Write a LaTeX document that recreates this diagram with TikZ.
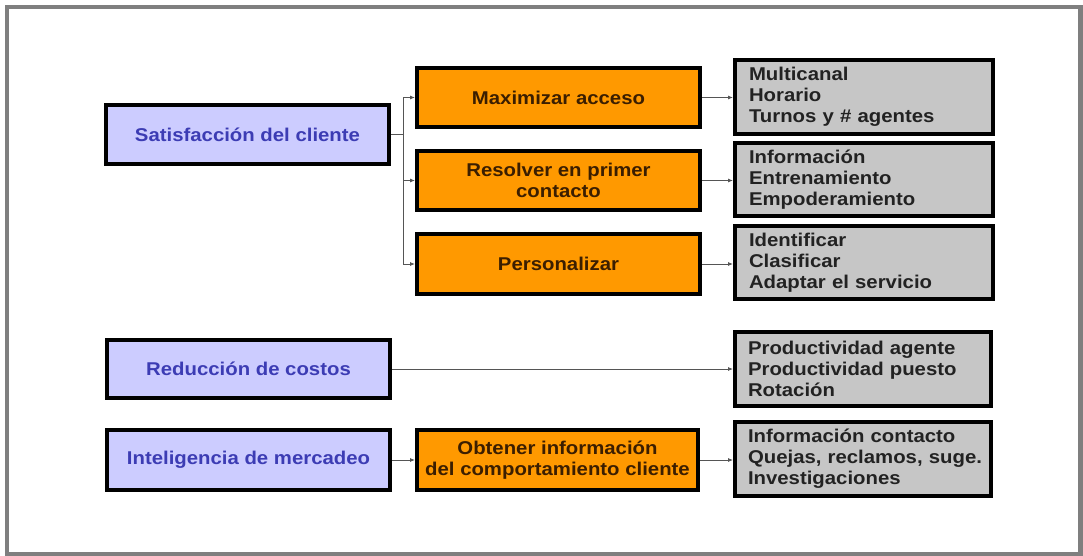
\documentclass[tikz,border=0pt]{standalone}
\usepackage{fontspec}
\setmainfont[FakeStretch=1.1,BoldFont={Liberation Sans Bold}]{Liberation Sans}
\usetikzlibrary{arrows.meta}
\definecolor{lav}{HTML}{CCCCFF}
\definecolor{bluetxt}{HTML}{3C3CB4}
\definecolor{orng}{HTML}{FF9900}
\definecolor{orngtxt}{HTML}{3B1E00}
\definecolor{grayfill}{HTML}{C6C6C6}
\definecolor{graytxt}{HTML}{222222}
\definecolor{frame}{HTML}{7F7F7F}
\definecolor{wire}{HTML}{555555}
\begin{document}
\begin{tikzpicture}[x=1pt,y=-1pt,
  box/.style={draw=black,line width=4pt,inner sep=0pt,
    font=\fontsize{18.5}{21}\selectfont\bfseries},
  goalbox/.style={box,fill=lav,text=bluetxt,minimum width=283,minimum height=59},
  actbox/.style={box,fill=orng,text=orngtxt,align=center,minimum width=283,minimum height=59},
  itembox/.style={box,fill=grayfill,text=graytxt,align=left,text width=230,
    minimum width=258,minimum height=74},
  wireline/.style={draw=wire,line width=0.8pt},
  arr/.style={wireline,-{Latex[length=5pt,width=4pt]}}]
\useasboundingbox (0,0) rectangle (1083,556);
\draw[frame,line width=4.5pt] (7,7) rectangle (1080.5,554);

% goals
\node[goalbox] (sat) at (247.5,134.5) {Satisfacción del cliente};
\node[goalbox,minimum width=283,minimum height=58] (red) at (248.5,369) {Reducción de costos};
\node[goalbox,minimum width=283,minimum height=60] (int) at (248.5,460) {Inteligencia de mercadeo};

% actions
\node[actbox] (max) at (558.5,97.5) {Maximizar acceso};
\node[actbox] (res) at (558.5,180.5) {Resolver en primer\\contacto};
\node[actbox,minimum height=60] (per) at (558.5,264) {Personalizar};
\node[actbox,minimum width=281,minimum height=60] (obt) at (557.5,460) {Obtener información\\del comportamiento cliente};

% items
\node[itembox] (i1) at (864,97) {Multicanal\\Horario\\Turnos y \# agentes};
\node[itembox,minimum height=73] (i2) at (864,179.5) {Información\\Entrenamiento\\Empoderamiento};
\node[itembox,minimum height=73] (i3) at (864,262.5) {Identificar\\Clasificar\\Adaptar el servicio};
\node[itembox,minimum width=256] (i4) at (863,369) {Productividad agente\\Productividad puesto\\Rotación};
\node[itembox,minimum width=256] (i5) at (863,459) {Información contacto\\\mbox{Quejas, reclamos, suge.}\\Investigaciones};

% branch from the first goal
\draw[wireline] (sat.east) -- ++(12,0) coordinate (br);
\draw[wireline] (br |- max.west) -- (br |- per.west);
\draw[arr] (br |- max.west) -- (max.west);
\draw[arr] (br |- res.west) -- (res.west);
\draw[arr] (br |- per.west) -- (per.west);

% actions to items
\draw[arr] (max.east) -- (i1.west |- max.east);
\draw[arr] (res.east) -- (i2.west |- res.east);
\draw[arr] (per.east) -- (i3.west |- per.east);
\draw[arr] (red.east) -- (i4.west);
\draw[arr] (int.east) -- (obt.west);
\draw[arr] (obt.east) -- (i5.west |- obt.east);
\end{tikzpicture}
\end{document}
